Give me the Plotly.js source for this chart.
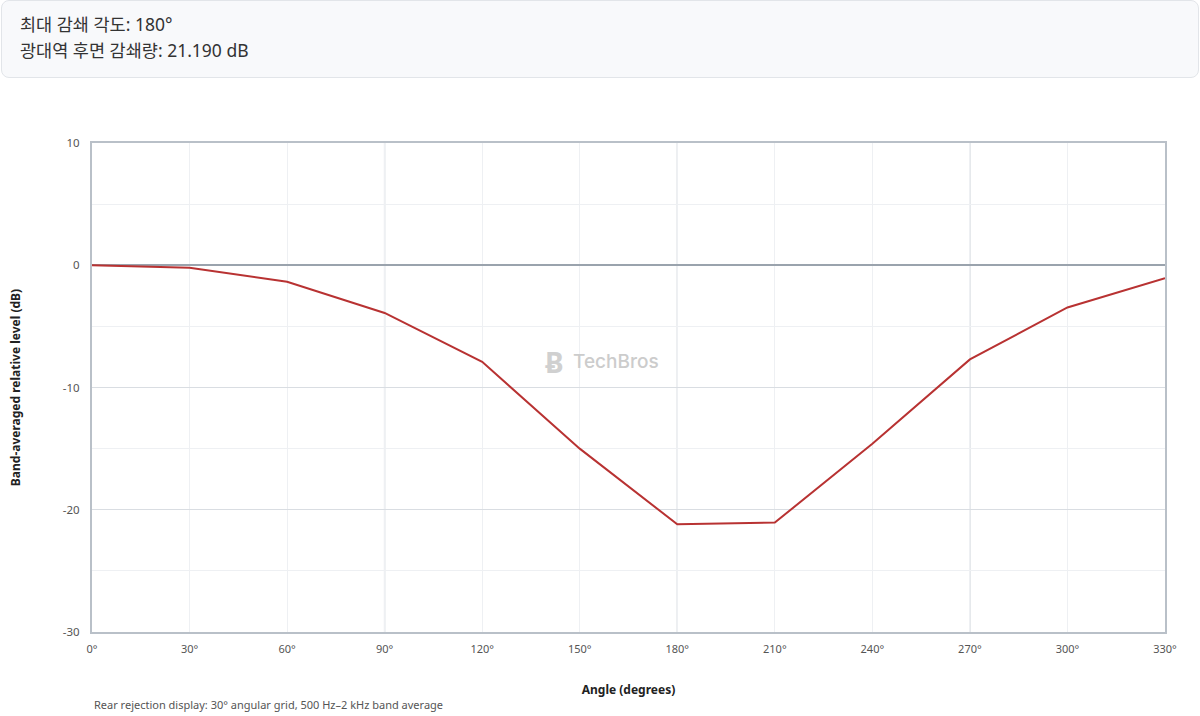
<!DOCTYPE html>
<html>
<head>
<meta charset="utf-8">
<script src="https://cdn.plot.ly/plotly-3.0.1.min.js"></script>
<style>
  body { margin:0; background:#fff; font-family:"Noto Sans","Noto Sans CJK KR",sans-serif; }
  .info {
    box-sizing:border-box; width:1198px; height:78px; margin:0 1px;
    background:#f8f9fb; border:1px solid #e2e5e9; border-radius:8px;
    padding:10px 18px; color:#333; font-size:17.5px; line-height:26px;
  }
  #chart { width:1200px; height:638px; }
</style>
</head>
<body>
<div class="info">
  <div>최대 감쇄 각도: 180°</div>
  <div>광대역 후면 감쇄량: 21.190 dB</div>
</div>
<div id="chart"></div>
<script>
// angles (deg) and band-averaged level (dB)
const angles = [0, 30, 60, 90, 120, 150, 180, 210, 240, 270, 300, 330];
const levels = [0, -0.2, -1.35, -3.9, -7.9, -15.0, -21.19, -21.05, -14.6, -7.7, -3.45, -1.05];
const yTicks = [10, 0, -10, -20, -30];
const majorAngles = [90, 180, 270];

const gridLight = '#eef0f3';
const gridMid   = '#d9dde2';

const trace = {
  type:'scatter', mode:'lines',
  x: angles, y: levels,
  line:{color:'#b83232', width:2},
  hoverinfo:'x+y', showlegend:false,
};

const shapes = majorAngles.map(a => ({
  type:'line', layer:'below', xref:'x', yref:'paper',
  x0:a, x1:a, y0:0, y1:1,
  line:{color:gridMid, width:1.5},
}));

const layout = {
  width:1200, height:638,
  margin:{t:65, r:35, b:84, l:92},
  paper_bgcolor:'#fff', plot_bgcolor:'#fff',
  font:{family:'"Noto Sans","Open Sans",sans-serif', size:11, color:'#555'},
  xaxis:{
    range:[0, 330], tickvals:angles, ticktext:angles.map(a => a + '°'),
    tickfont:{size:11, color:'#555'},
    showgrid:true, gridcolor:gridLight, gridwidth:1,
    showline:true, mirror:true, linecolor:'#b9c0c8', linewidth:2,
    zeroline:false, ticks:'', ticklabelstandoff:6,
    title:{text:'Angle (degrees)', standoff:30, font:{size:12, color:'#222', weight:'bold'}},
  },
  yaxis:{
    range:[-30, 10], tickvals:yTicks, ticktext:yTicks.map(String),
    tickfont:{size:11.5, color:'#555'},
    showgrid:true, gridcolor:gridMid, gridwidth:1,
    minor:{dtick:5, showgrid:true, gridcolor:gridLight, gridwidth:1},
    showline:true, mirror:true, linecolor:'#b9c0c8', linewidth:2,
    zeroline:true, zerolinecolor:'#9aa3ad', zerolinewidth:2,
    ticks:'', ticklabelstandoff:8,
    title:{text:'Band-averaged relative level (dB)', standoff:40, font:{size:12, color:'#222', weight:'bold'}},
  },
  shapes,
  annotations:[
    {xref:'paper', yref:'paper', x:0, y:-0.149, xanchor:'left', yanchor:'middle',
     text:'Rear rejection display: 30° angular grid, 500 Hz–2 kHz band average',
     showarrow:false, font:{size:11, color:'#555'}},
    {xref:'paper', yref:'paper', x:0.431, y:0.553, xanchor:'center', yanchor:'middle',
     text:'<b>Ƀ</b>', showarrow:false, font:{size:28, color:'#d0d0d0'}},
    {xref:'paper', yref:'paper', x:0.446, y:0.553, xanchor:'left', yanchor:'middle',
     text:'TechBros', showarrow:false, font:{size:19, color:'#cccccc', family:'Inter, sans-serif', weight:500}},
  ],
};

Plotly.newPlot('chart', [trace], layout, {displayModeBar:false, staticPlot:true});
</script>
</body>
</html>
